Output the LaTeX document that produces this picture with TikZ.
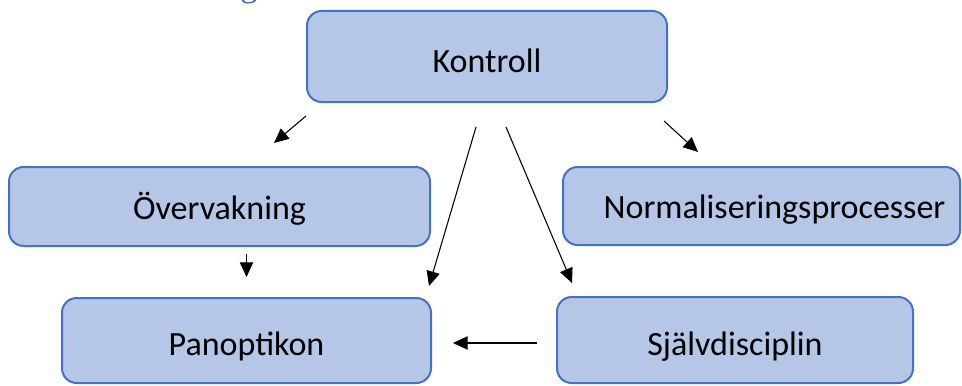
\documentclass[tikz,border=0pt]{standalone}
\usepackage{fontspec}
\setmainfont{Carlito}
\newfontfamily\serifg{Liberation Serif}
\usetikzlibrary{arrows.meta,calc}
\definecolor{boxfill}{HTML}{B4C7E7}
\definecolor{boxline}{HTML}{4472C4}
\definecolor{headblue}{HTML}{3B64B4}
\begin{document}
\begin{tikzpicture}[x=0.75pt,y=-0.75pt,
  box/.style={draw=boxline, fill=boxfill, line width=1.5pt, rounded corners=11pt,
    font=\fontsize{25.5}{30}\selectfont, text depth=0pt, inner sep=0pt},
  arr/.style={-{Triangle[length=11pt,width=10pt]}, line width=0.8pt, draw=black}]
\useasboundingbox (0,0) rectangle (962,385);
\begin{scope}
  \clip (0,0) rectangle (962,385);
  \node[font=\serifg\fontsize{26}{30}\selectfont, text=headblue, anchor=base, inner sep=0pt] (frag) at (249,-3) {g};
\end{scope}
\node[box, minimum width=270pt, minimum height=68.25pt, text height=23.7pt] (kon) at (487,56.5) {Kontroll};
\node[box, minimum width=315.75pt, minimum height=59.25pt, text height=19.2pt] (ov) at (219.5,206.5) {Övervakning};
\node[box, minimum width=297.75pt, minimum height=58.5pt, text height=18.5pt] (norm) at (761.5,206) {\hspace*{19.5pt}Normaliseringsprocesser};
\node[box, minimum width=276.75pt, minimum height=63.75pt, text height=23.2pt] (pan) at (246.5,340.5) {Panoptikon};
\node[box, minimum width=267pt, minimum height=64.5pt, text height=22.5pt] (sj) at (735,340) {Självdisciplin};
\draw[arr] ($(kon.south west)+(0,13)$) -- ($(ov.north)+(54.5,-23)$);
\draw[arr] ($(kon.south east)+(-4,18)$) -- ($(norm.north)+(-63.5,-14)$);
\draw[arr] ($(kon.south)+(-11,24)$) -- ($(pan.north east)+(-3,-11)$);
\draw[arr] ($(kon.south)+(19,24)$) -- ($(sj.north west)+(16,-13)$);
\draw[arr] ($(ov.south -| pan.north)+(0,7)$) -- ($(pan.north)+(0,-20)$);
\draw[arr] ($(sj.west)+(-19,3)$) -- ($(pan.east)+(21,2.5)$);
\end{tikzpicture}
\end{document}
